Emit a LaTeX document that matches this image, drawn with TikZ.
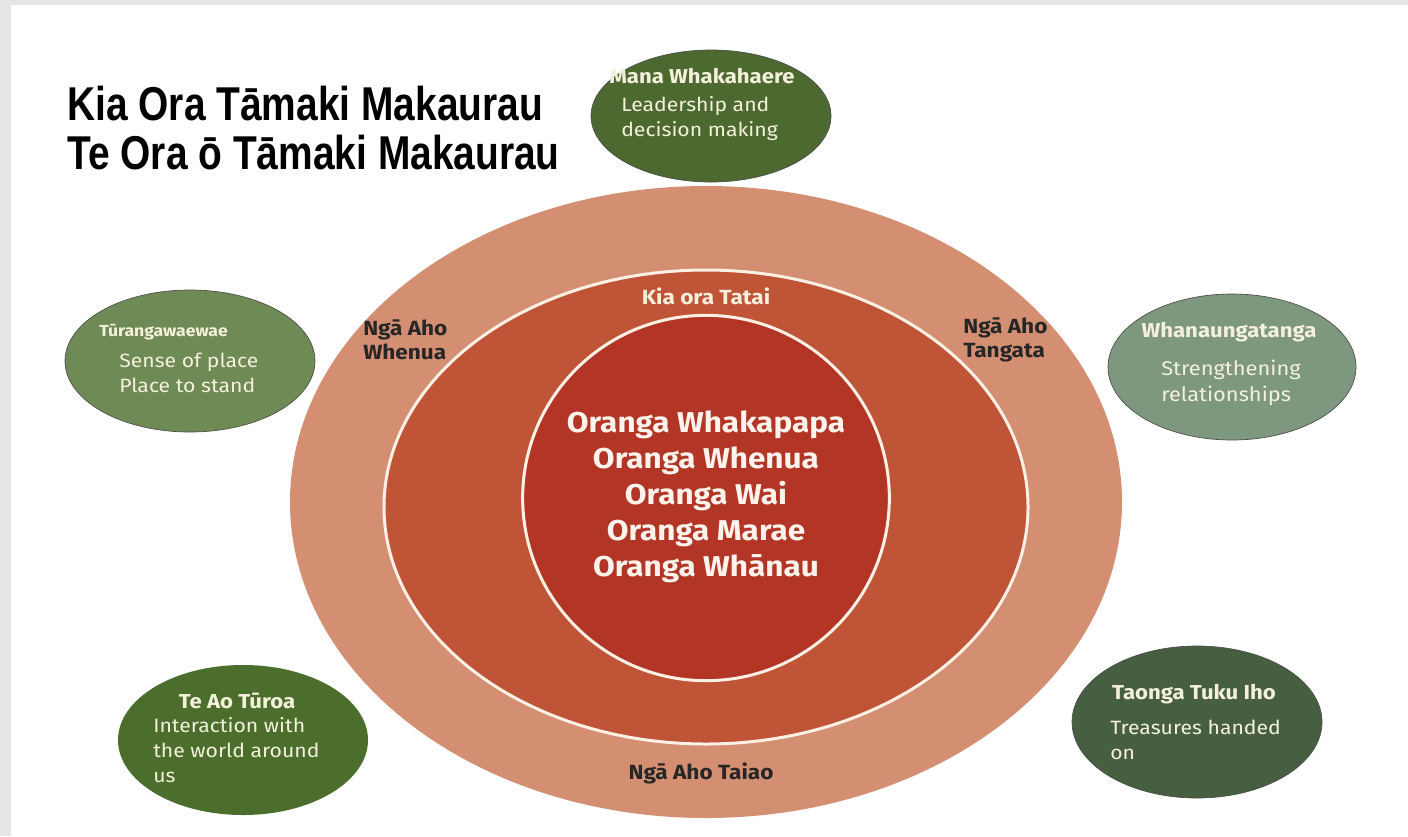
\documentclass[tikz,border=0pt]{standalone}
\usepackage{fontspec}
\setmainfont{Fira Sans}
\newfontfamily\ubu[FakeStretch=1.1]{Fira Sans}
\newfontfamily\titlefont[FakeStretch=0.82]{Liberation Sans}
\usetikzlibrary{shapes.geometric}
\definecolor{bandgrey}{HTML}{E7E6E4}
\definecolor{outerc}{HTML}{D48F73}
\definecolor{middlec}{HTML}{C05437}
\definecolor{innerc}{HTML}{B33526}
\definecolor{ringline}{HTML}{FCEFE4}
\definecolor{gmana}{HTML}{4C6A2F}
\definecolor{gtura}{HTML}{6E8A55}
\definecolor{gwhan}{HTML}{7E9880}
\definecolor{gteao}{HTML}{4B6E2C}
\definecolor{gtaon}{HTML}{465F40}
\definecolor{cream}{HTML}{F4F0DC}
\definecolor{coretext}{HTML}{FBF3EC}
\definecolor{darktext}{HTML}{262626}
\tikzset{
  blob/.style={ellipse, inner sep=0pt, outer sep=0pt, draw=black!70, line width=0.5pt},
  blobtitle/.style={text=cream, font=\ubu\bfseries\fontsize{15.1pt}{18pt}\selectfont, inner sep=0pt},
  blobbody/.style={text=cream, font=\ubu\fontsize{14.45pt}{18.75pt}\selectfont, align=left, inner sep=0pt, anchor=west},
  ringlabel/.style={text=darktext, font=\ubu\bfseries\fontsize{15.4pt}{18pt}\selectfont, align=left, inner sep=0pt},
}
\begin{document}
\begin{tikzpicture}[x=0.75pt,y=-0.75pt]
\useasboundingbox (0,0) rectangle (1408,836);
\fill[white] (0,0) rectangle (1408,836);
\fill[bandgrey] (0,0) rectangle (1408,5);
\fill[bandgrey] (0,0) rectangle (11,836);

% rings
\node[ellipse, fill=outerc, inner sep=0pt, minimum width=624pt, minimum height=474pt] (outer) at (706,502) {};
\node[ellipse, fill=middlec, draw=ringline, line width=2.25pt, inner sep=0pt, minimum width=483pt, minimum height=355.5pt] (middle) at (706,507) {};
\node[ellipse, fill=innerc, draw=ringline, line width=2.25pt, inner sep=0pt, minimum width=275pt, minimum height=274pt] (inner) at (706,498) {};

\node[text=coretext, font=\ubu\bfseries\fontsize{21.5pt}{27pt}\selectfont, align=center, inner sep=0pt] (core) at (706,497)
  {Oranga Whakapapa\\Oranga Whenua\\Oranga Wai\\Oranga Marae\\Oranga Whānau};
\node[text=cream, font=\ubu\bfseries\fontsize{15.4pt}{18pt}\selectfont, inner sep=0pt] (tatai) at (706,296) {Kia ora Tatai};
\node[ringlabel, anchor=west] (whenua) at (363,340) {Ngā Aho\\Whenua};
\node[ringlabel, anchor=west] (tangata) at (963,340) {Ngā Aho\\Tangata};
\node[ringlabel] (taiao) at (701,773) {Ngā Aho Taiao};

% title
\node[anchor=west, align=left, inner sep=0pt, font=\titlefont\bfseries\fontsize{35.6pt}{36.75pt}\selectfont] (title) at (67,128)
  {Kia Ora Tāmaki Makaurau\\Te Ora ō Tāmaki Makaurau};

% Mana Whakahaere
\node[blob, fill=gmana, minimum width=180pt, minimum height=99pt] (mana) at (711,116) {};
\node[blobtitle] (manat) at (702,76) {Mana Whakahaere};
\node[blobbody] (manab) at (621,119) {Leadership and\\decision making};

% Turangawaewae
\node[blob, fill=gtura, minimum width=187.5pt, minimum height=106.5pt] (tura) at (190,361) {};
\node[blobtitle, anchor=west, font=\ubu\bfseries\fontsize{12pt}{14pt}\selectfont] (turat) at (99,332) {Tūrangawaewae};
\node[blobbody] (turab) at (119,373) {Sense of place\\Place to stand};

% Whanaungatanga
\node[blob, fill=gwhan, minimum width=186pt, minimum height=109.5pt] (whan) at (1232,367) {};
\node[blobtitle] (whant) at (1229,332) {Whanaungatanga};
\node[blobbody, font=\ubu\fontsize{14.9pt}{19.5pt}\selectfont] (whanb) at (1161,383) {Strengthening\\relationships};

% Te Ao Turoa
\node[blob, fill=gteao, draw=none, minimum width=187.5pt, minimum height=112.5pt] (teao) at (243,740) {};
\node[blobtitle] (teaot) at (237,701) {Te Ao Tūroa};
\node[blobbody] (teaob) at (153,750) {Interaction with\\the world around\\us};

% Taonga Tuku Iho
\node[blob, fill=gtaon, minimum width=187.5pt, minimum height=114pt] (taon) at (1197,722) {};
\node[blobtitle] (taont) at (1194,694) {Taonga Tuku Iho};
\node[blobbody] (taonb) at (1110,740) {Treasures handed\\on};
\end{tikzpicture}
\end{document}
